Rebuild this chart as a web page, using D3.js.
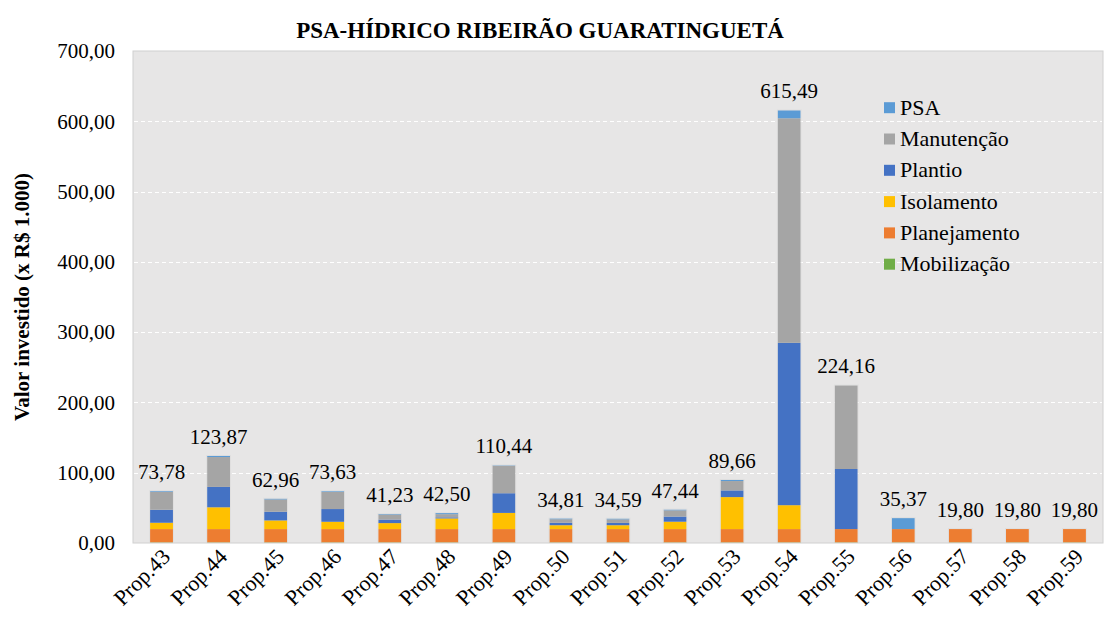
<!DOCTYPE html>
<html>
<head>
<meta charset="utf-8">
<script src="https://cdn.jsdelivr.net/npm/d3@7"></script>
<style>
  html, body { margin: 0; padding: 0; background: #ffffff; }
</style>
</head>
<body>
<svg id="chart" width="1105" height="619"></svg>
<script>
const categories = ["Prop.43","Prop.44","Prop.45","Prop.46","Prop.47","Prop.48","Prop.49","Prop.50","Prop.51","Prop.52","Prop.53","Prop.54","Prop.55","Prop.56","Prop.57","Prop.58","Prop.59"];
const seriesNames = ["Mobilização","Planejamento","Isolamento","Plantio","Manutenção","PSA"];
const mobilizacao  = [0.8, 0.8, 0.8, 0.8, 0.8, 0.8, 0.8, 0.8, 0.8, 0.8, 0.8, 0.8, 0.8, 0.8, 0.8, 0.8, 0.8];
const planejamento = [19.0,19.0,19.0,19.0,19.0,19.0,19.0,19.0,19.0,19.0,19.0,19.0,19.0,19.0,19.0,19.0,19.0];
const isolamento   = [9.0, 31.0,12.3,10.4, 8.5, 15.2,23.0, 5.5, 5.5, 10.5,45.5, 34.0, 0,   0, 0, 0, 0];
const plantio      = [18.5,29.0,12.4,18.1, 5.0, 1.5, 28.0, 3.5, 3.3, 7.3, 9.5, 231.0,85.5, 0, 0, 0, 0];
const manutencao   = [25.48,42.5,17.46,24.33,7.2,4.5, 39.14,5.0, 5.0, 8.84,13.36,319.5,118.86,0,0,0,0];
const psa          = [1.0, 1.57,1.0, 1.0, 0.73,1.5, 0.5, 1.01,0.99,1.0, 1.5, 11.19, 0, 15.57,0,0,0];
const totals       = [73.78,123.87,62.96,73.63,41.23,42.50,110.44,34.81,34.59,47.44,89.66,615.49,224.16,35.37,19.80,19.80,19.80];
const yTicks       = [0,100,200,300,400,500,600,700];
const colors = {"Mobilização":"#70AD47","Planejamento":"#ED7D31","Isolamento":"#FFC000","Plantio":"#4472C4","Manutenção":"#A5A5A5","PSA":"#5B9BD5"};
const legendOrder = ["PSA","Manutenção","Plantio","Isolamento","Planejamento","Mobilização"];

const seriesArrays = [mobilizacao, planejamento, isolamento, plantio, manutencao, psa];
const table = categories.map((c, i) => {
  const row = {cat: c};
  seriesNames.forEach((s, k) => row[s] = seriesArrays[k][i]);
  return row;
});

const FONT = "'Liberation Serif', 'Times New Roman', serif";
const svg = d3.select("#chart");
const pLeft = 133, pRight = 1103, pTop = 51, pBottom = 543;

const x = d3.scaleBand().domain(categories).range([pLeft, pRight]).paddingInner(0.6).paddingOuter(0.3);
const y = d3.scaleLinear().domain([0, 700]).range([pBottom, pTop]);

svg.append("rect").attr("x", pLeft).attr("y", pTop).attr("width", pRight - pLeft).attr("height", pBottom - pTop)
  .attr("fill", "#E7E6E6").attr("stroke", "#D0D0D0").attr("stroke-width", 1);

svg.append("g").selectAll("line").data(yTicks.filter(d => d > 0 && d < 700)).join("line")
  .attr("x1", pLeft + 1).attr("x2", pRight - 1)
  .attr("y1", d => Math.round(y(d)) + 0.5).attr("y2", d => Math.round(y(d)) + 0.5)
  .attr("stroke", "#FFFFFF").attr("stroke-width", 1).attr("stroke-dasharray", "4,3");

const stack = d3.stack().keys(seriesNames)(table);
svg.append("g").selectAll("g").data(stack).join("g")
  .attr("fill", d => colors[d.key])
  .selectAll("rect").data(d => d).join("rect")
  .attr("x", d => x(d.data.cat))
  .attr("width", x.bandwidth())
  .attr("y", d => y(d[1]))
  .attr("height", d => Math.max(0, y(d[0]) - y(d[1])));

svg.append("g").selectAll("rect").data(categories).join("rect")
  .attr("x", (d) => x(d) - 0.5)
  .attr("width", x.bandwidth() + 1)
  .attr("y", (d, i) => y(totals[i]) - 0.5)
  .attr("height", (d, i) => y(0) - y(totals[i]))
  .attr("fill", "none").attr("stroke", "#D8D8D8").attr("stroke-width", 0.8).attr("opacity", 0.6);

const fmt = v => v.toFixed(2).replace(".", ",");
svg.append("g").selectAll("text").data(categories).join("text")
  .attr("x", d => x(d) + x.bandwidth() / 2)
  .attr("y", (d, i) => y(totals[i]) - 12)
  .attr("text-anchor", "middle")
  .attr("font-family", FONT)
  .attr("font-size", 21)
  .text((d, i) => fmt(totals[i]));

const yAxis = d3.axisLeft(y).tickValues(yTicks).tickFormat(d => d.toFixed(2).replace(".", ",")).tickSize(0).tickPadding(18);
const yg = svg.append("g").attr("transform", `translate(${pLeft},0)`).call(yAxis);
yg.attr("font-family", FONT).attr("font-size", 21);
yg.select(".domain").remove();
yg.selectAll("text").attr("fill", "#000");

const xAxis = d3.axisBottom(x).tickSize(0).tickPadding(0);
const xg = svg.append("g").attr("transform", `translate(0,${pBottom})`).call(xAxis);
xg.attr("font-family", FONT).attr("font-size", 22);
xg.select(".domain").remove();
xg.selectAll("text")
  .attr("fill", "#000")
  .attr("text-anchor", "end")
  .attr("dy", null)
  .attr("transform", "translate(10,15) rotate(-45)");

svg.append("text").attr("x", 540).attr("y", 38).attr("text-anchor", "middle")
  .attr("font-family", FONT).attr("font-size", 23).attr("font-weight", "bold")
  .text("PSA-HÍDRICO RIBEIRÃO GUARATINGUETÁ");

svg.append("text").attr("transform", "translate(29,297) rotate(-90)").attr("text-anchor", "middle")
  .attr("font-family", FONT).attr("font-size", 21).attr("font-weight", "bold")
  .text("Valor investido (x R$ 1.000)");

const lg = svg.append("g").selectAll("g").data(legendOrder).join("g")
  .attr("transform", (d, i) => `translate(884,${107.7 + i * 31.3})`);
lg.append("rect").attr("x", 0).attr("y", -5.5).attr("width", 11).attr("height", 11).attr("fill", d => colors[d]);
lg.append("text").attr("x", 16).attr("y", 7).attr("font-family", FONT).attr("font-size", 22).text(d => d);
</script>
</body>
</html>
